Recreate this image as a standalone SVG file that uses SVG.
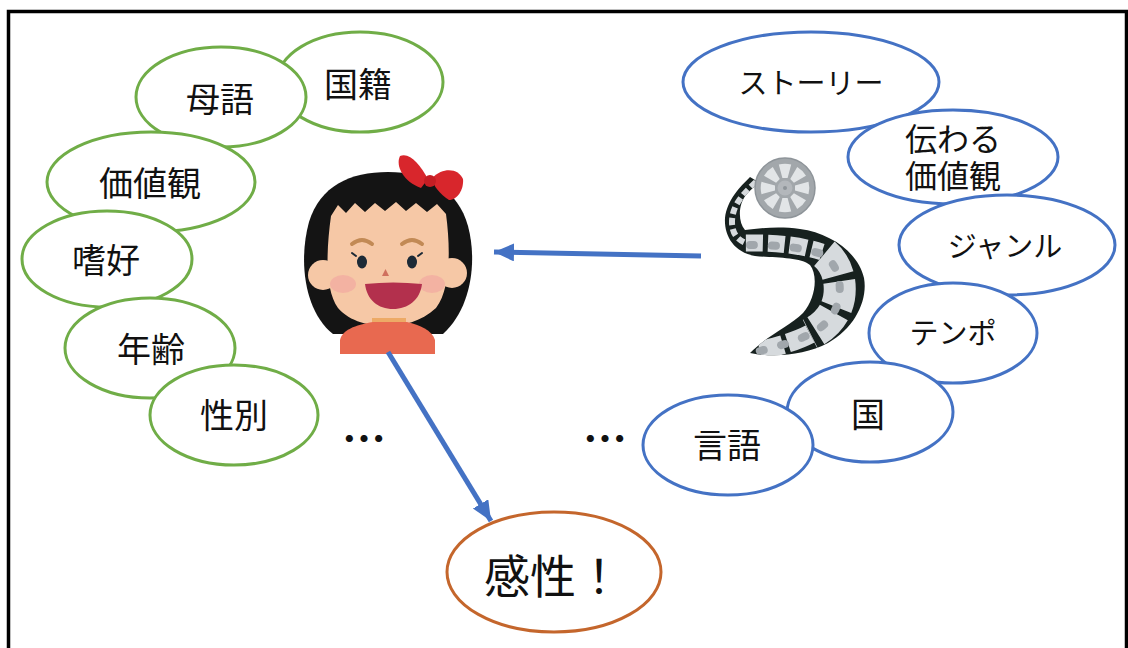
<svg xmlns="http://www.w3.org/2000/svg" width="1128" height="648" viewBox="0 0 1128 648">
  <defs>
    <style>
      .lbl { font-family: "Noto Sans CJK JP", "Noto Sans", sans-serif; fill: #111; text-anchor: middle; dominant-baseline: central; }
      .k { font-size: 34px; }
      .kana { font-size: 29px; }
      .g { fill: #fff; stroke: #70AD47; stroke-width: 3; }
      .b { fill: #fff; stroke: #4472C4; stroke-width: 3; }
      .arrow { fill: none; stroke: #4472C4; stroke-width: 5; marker-end: url(#head); }
      .frame { fill: none; stroke: #D6DADD; stroke-linecap: butt; stroke-linejoin: round; }
      .fig { fill: none; stroke: #A1A7AC; stroke-linecap: round; }
    </style>
    <marker id="head" markerUnits="userSpaceOnUse" markerWidth="24" markerHeight="20" refX="20" refY="9" orient="auto">
      <path d="M0,0 L20,9 L0,18 Z" fill="#4472C4"/>
    </marker>
    <path id="hole" d="M10,-2.6 L23.5,-6.2 A24.3,24.3 0 0 1 23.5,6.2 L10,2.6 Z" fill="#E2E5E7"/>
    <!-- outline of the film strip -->
    <path id="band" d="M750,177 C740,187 727,200 725,218 C724,235 733,252 755,256 C775,258 800,257 810,265 C818,275 816,298 803,313 C790,326 768,335 750,353 C775,358 805,355 828,343 C855,328 868,300 864,278 C858,252 830,233 800,229 C780,226 760,228 745,230 C738,222 738,205 746,195 C750,190 755,186 760,183 Z"/>
    <clipPath id="bandClip"><use href="#band"/></clipPath>
  </defs>

  <!-- frame -->
  <rect x="8.5" y="11.5" width="1118" height="700" fill="#fff" stroke="#000" stroke-width="3.5"/>

  <!-- left cluster: personal attributes -->
  <g id="node-kokuseki"><ellipse class="g" cx="360" cy="82" rx="83" ry="50"/><text class="lbl k" x="358" y="82">国籍</text></g>
  <g id="node-bogo"><ellipse class="g" cx="221" cy="97" rx="85" ry="50"/><text class="lbl k" x="220" y="97">母語</text></g>
  <g id="node-kachikan"><ellipse class="g" cx="151" cy="182" rx="104" ry="50"/><text class="lbl k" x="150" y="181">価値観</text></g>
  <g id="node-shikou"><ellipse class="g" cx="107" cy="259" rx="85" ry="48"/><text class="lbl k" x="106" y="258">嗜好</text></g>
  <g id="node-nenrei"><ellipse class="g" cx="150" cy="348" rx="85" ry="50"/><text class="lbl k" x="151" y="347">年齢</text></g>
  <g id="node-seibetsu"><ellipse class="g" cx="234" cy="415" rx="84" ry="50"/><text class="lbl k" x="234" y="413">性別</text></g>
  <text id="more-left" class="lbl" x="364" y="436" font-size="44" font-weight="bold">…</text>

  <!-- right cluster: film attributes -->
  <g id="node-story"><ellipse class="b" cx="811" cy="82" rx="128" ry="50"/><text class="lbl kana" x="811" y="81">ストーリー</text></g>
  <g id="node-tsutawaru"><ellipse class="b" cx="953" cy="157" rx="105" ry="47"/><text class="lbl" font-size="32"><tspan x="953" y="137">伝わる</tspan><tspan x="953" y="174">価値観</tspan></text></g>
  <g id="node-genre"><ellipse class="b" cx="1007" cy="245" rx="108" ry="50"/><text class="lbl kana" x="1005" y="244">ジャンル</text></g>
  <g id="node-tempo"><ellipse class="b" cx="953" cy="333" rx="84" ry="50"/><text class="lbl kana" x="953" y="331">テンポ</text></g>
  <g id="node-kuni"><ellipse class="b" cx="870" cy="412" rx="83" ry="50"/><text class="lbl k" x="868" y="412">国</text></g>
  <g id="node-gengo"><ellipse class="b" cx="728" cy="445" rx="85" ry="50"/><text class="lbl k" x="727" y="443">言語</text></g>
  <text id="more-right" class="lbl" x="605" y="436" font-size="44" font-weight="bold">…</text>

  <!-- result -->
  <g id="node-kansei"><ellipse cx="554" cy="572" rx="107" ry="60" fill="#fff" stroke="#C4662C" stroke-width="3"/><text class="lbl" font-size="46" x="553" y="573">感性！</text></g>

  <!-- viewer: girl -->
  <g id="node-girl">
    <path d="M333,334 C305,312 298,262 309,222 C320,186 350,172 388,172 C428,172 458,190 468,226 C478,264 470,310 443,334 Z" fill="#141414"/>
    <path d="M428,179 C420,165 410,152 400,156 C395,166 404,182 421,188 Z" fill="#D8262C"/>
    <path d="M432,178 C444,166 459,169 463,179 C464,190 457,200 449,200 C440,194 433,186 432,178 Z" fill="#D8262C"/>
    <circle cx="430" cy="181" r="6" fill="#C41E24"/>
    <circle cx="323" cy="275" r="15" fill="#F6C8A6"/>
    <circle cx="452" cy="273" r="15" fill="#F6C8A6"/>
    <path d="M331,216 L338,205 L346,213 L355,203 L365,212 L375,203 L385,211 L396,202 L406,211 L416,203 L427,212 L437,204 L446,214 C451,252 450,290 436,308 C421,322 402,326 388,326 C370,326 350,322 338,308 C325,290 326,252 331,216 Z" fill="#F6C8A6"/>
    <ellipse cx="343" cy="284" rx="13" ry="9" fill="#F2A3A0" opacity="0.6"/>
    <ellipse cx="432" cy="284" rx="13" ry="9" fill="#F2A3A0" opacity="0.6"/>
    <path d="M352,244 Q362,236 372,244" fill="none" stroke="#C28A55" stroke-width="4" stroke-linecap="round"/>
    <path d="M402,244 Q412,236 422,244" fill="none" stroke="#C28A55" stroke-width="4" stroke-linecap="round"/>
    <ellipse cx="362" cy="262" rx="5" ry="6.5" fill="#1C2A36"/>
    <ellipse cx="412" cy="262" rx="5" ry="6.5" fill="#1C2A36"/>
    <path d="M356,256 L352,253 M418,256 L422,253" stroke="#1C2A36" stroke-width="2" stroke-linecap="round"/>
    <path d="M382,276 L385.5,269 L389,276 Z" fill="#D0705E"/>
    <path d="M365,284 Q393,281 422,284 C420,300 408,309 393,309 C378,309 367,300 365,284 Z" fill="#B3304D"/>
    <rect x="372" y="314" width="34" height="10" fill="#F6C8A6"/>
    <path d="M372,318 L406,318 L406,324 L372,324 Z" fill="#EDAA66"/>
    <path d="M340,354 L340,340 C342,330 355,325 373,322 L407,322 C420,325 432,330 435,340 L435,354 Z" fill="#E86950"/>
  </g>

  <!-- film: strip with frames, then the reel on top -->
  <g id="node-film">
    <use href="#band" fill="#17211F"/>
    <g clip-path="url(#bandClip)">
      <path class="frame" stroke-width="6" stroke-dasharray="7 4" d="M756,182 C742,195 732,206 732,222 C732,234 738,240 746,243"/>
      <path class="frame" stroke-width="17" stroke-dasharray="17 5" stroke-dashoffset="-2" d="M744,243 C760,243 790,242 822,252"/>
      <path class="frame" stroke-width="32" stroke-dasharray="26 6" stroke-dashoffset="-3" d="M822,252 C836,262 842,280 839,298 C836,314 826,326 810,334"/>
      <path class="frame" stroke-width="19" stroke-dasharray="24 5" d="M810,334 C795,342 775,347 756,352"/>
      <path class="fig" stroke-width="8" stroke-dasharray="4 18" stroke-dashoffset="-6" d="M744,245 C760,245 790,244 822,254 C836,262 842,280 839,298 C836,314 826,326 810,334 C795,342 775,347 756,352"/>
    </g>
    <circle cx="785" cy="188" r="30" fill="#A2A7AB" stroke="#8E9499" stroke-width="1.5"/>
    <g transform="translate(785,188)">
      <use href="#hole" transform="rotate(0)"/>
      <use href="#hole" transform="rotate(45)"/>
      <use href="#hole" transform="rotate(90)"/>
      <use href="#hole" transform="rotate(135)"/>
      <use href="#hole" transform="rotate(180)"/>
      <use href="#hole" transform="rotate(225)"/>
      <use href="#hole" transform="rotate(270)"/>
      <use href="#hole" transform="rotate(315)"/>
      <circle r="7.5" fill="#B3B7BB"/>
      <circle r="2" fill="#8E9499"/>
    </g>
  </g>

  <!-- connectors -->
  <g id="connectors">
    <path class="arrow" d="M701,256 L494,252"/>
    <path class="arrow" d="M388,352 L491,521"/>
  </g>
</svg>
